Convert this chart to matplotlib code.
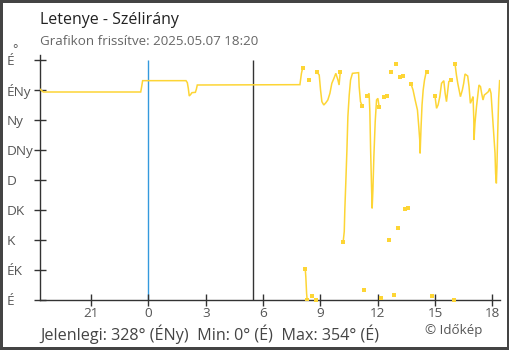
import matplotlib
matplotlib.use('Agg')
import matplotlib.pyplot as plt

plt.rcParams['font.family'] = ['Open Sans', 'DejaVu Sans']

# wind direction, hours relative to midnight (negative = previous evening), degrees
# each run is a stretch of readings without a 0/360 wrap
run_a_h = [-5.66, -5.5, -0.40, -0.35, -0.30, 1.97, 2.04, 2.09, 2.14, 2.22, 2.28, 2.46,
           2.51, 2.56, 7.93, 8.01, 8.07]
run_a_deg = [316, 312, 312, 320, 329, 329, 326, 317.5, 306, 308.5, 311, 311.5,
             316, 322.5, 323, 340, 347.5]

run_b_h = [8.21, 8.24, 8.28, 8.31]
run_b_deg = [46, 34.5, 10, 0]

run_c_h = [8.83, 8.94, 9.01, 9.08, 9.18, 9.29, 9.39, 9.50, 9.60, 9.71, 9.81, 9.92, 9.98, 10.04]
run_c_deg = [341.5, 337.5, 315, 297.5, 292.5, 296, 300, 310, 325, 332.5, 340, 330, 322.5, 341.5]

run_d_h = [10.19, 10.25, 10.28, 10.33, 10.39, 10.44, 10.51, 10.58, 10.68, 11.0, 11.03, 11.10, 11.19]
run_d_deg = [86.5, 102.5, 135, 175, 225, 275, 307.5, 330, 340, 341, 320, 297.5, 291]

run_e_h = [11.45, 11.55, 11.59, 11.63, 11.68, 11.71, 11.75, 11.80, 11.87, 11.94, 12.01, 12.08]
run_e_deg = [306, 310, 282.5, 225, 167.5, 137.5, 165, 215, 267.5, 300, 302.5, 289]

run_f_h = [13.75, 13.85, 13.96, 14.08, 14.15, 14.20, 14.22, 14.27, 14.32, 14.38, 14.45, 14.53, 14.58]
run_f_deg = [323.5, 315, 300, 285, 260, 240, 220, 260, 292.5, 315, 330, 341, 341.5]

run_g_h = [15.0, 15.08, 15.16, 15.25, 15.34, 15.46, 15.53, 15.60, 15.67, 15.72, 15.82]
run_g_deg = [305.5, 287.5, 292.5, 305, 325, 329, 310, 297.5, 315, 327.5, 330]

run_h_h = [16.05, 16.12, 16.19, 16.26, 16.33, 16.43, 16.50, 16.57, 16.71, 16.78, 16.85, 16.92,
           16.99, 17.03, 17.04, 17.09, 17.17, 17.23, 17.30, 17.38, 17.44, 17.51, 17.58, 17.69,
           17.79, 17.86, 17.93, 18.0, 18.07, 18.14, 18.17, 18.21, 18.24, 18.28, 18.33, 18.38]
run_h_deg = [353.5, 337.5, 325, 315, 305, 315, 325, 339, 336, 320, 295, 300,
             305, 270, 240, 265, 290, 305, 322.5, 320, 310, 300, 307.5, 310,
             312.5, 317.5, 310, 280, 250, 220, 190, 175, 200, 250, 302.5, 329]

# single readings between wraps
lone_h = [8.42, 8.57, 8.75, 11.29, 12.18, 12.34, 12.49, 12.60, 12.70, 12.86, 12.96,
          13.07, 13.17, 13.33, 13.43, 13.59, 14.85, 16.0]
lone_deg = [329.5, 5.5, 0, 15, 2.5, 304, 306, 89.5, 341.5, 7, 353.5,
            107.5, 334, 336, 136, 137.5, 5.5, 0]

runs = [(run_a_h, run_a_deg), (run_b_h, run_b_deg), (run_c_h, run_c_deg),
        (run_d_h, run_d_deg), (run_e_h, run_e_deg), (run_f_h, run_f_deg),
        (run_g_h, run_g_deg), (run_h_h, run_h_deg)]

tick_hours = [-3, 0, 3, 6, 9, 12, 15, 18]
tick_labels = ['21', '0', '3', '6', '9', '12', '15', '18']
dir_deg = [0, 45, 90, 135, 180, 225, 270, 315, 360]
dir_labels = ['É', 'ÉK', 'K', 'DK', 'D', 'DNy', 'Ny', 'ÉNy', 'É']

midnight = 0
sunrise = 5.48
x_start, x_end = -5.67, 18.4

yellow = '#fdd535'
grey = '#555555'
axis_col = '#333333'

fig = plt.figure(figsize=(5.1, 3.5), dpi=100)
fig.patch.set_edgecolor('#444444')
fig.patch.set_linewidth(3)
ax = fig.add_axes([40 / 510, 50 / 350, 460 / 510, 245 / 350])

ax.vlines(midnight, 0, 360, color='#3399dd', lw=1, zorder=1)
ax.vlines(sunrise, 0, 360, color=axis_col, lw=1, zorder=1)

for hs, ds in runs:
    ax.plot(hs, ds, color=yellow, lw=1.1, zorder=3, solid_joinstyle='miter')
    # square marks where a run breaks off
    inside = [(h, d) for h, d in ((hs[0], ds[0]), (hs[-1], ds[-1]))
              if x_start + 0.1 < h < x_end - 0.1]
    ax.plot([p[0] for p in inside], [p[1] for p in inside], 's', color=yellow,
            ms=2.6, mew=0, zorder=3)
ax.plot(lone_h, lone_deg, 's', color=yellow, ms=2.6, mew=0, zorder=3, clip_on=False)

ax.set_xlim(x_start, x_end)
ax.set_ylim(0, 367.5)
ax.set_xticks(tick_hours)
ax.set_xticklabels(tick_labels)
ax.set_yticks(dir_deg)
ax.set_yticklabels(dir_labels)
for lbl in ax.get_yticklabels():
    lbl.set_horizontalalignment('left')

for side in ('top', 'right'):
    ax.spines[side].set_visible(False)
for side in ('left', 'bottom'):
    ax.spines[side].set_color(axis_col)
    ax.spines[side].set_linewidth(1)
ax.tick_params(axis='x', direction='inout', length=8, width=1, color=axis_col,
               labelsize=9.7, labelcolor=grey, pad=1)
ax.tick_params(axis='y', direction='inout', length=9, width=1, color=axis_col,
               labelsize=9.7, labelcolor=grey, pad=19.3)

fig.text(15 / 510, 1 - 50 / 350, '°', fontsize=9, color=grey, ha='center', va='center')
fig.text(40 / 510, 1 - 24.5 / 350, 'Letenye - Szélirány', fontsize=11.5, color='#222222',
         va='baseline')
fig.text(40 / 510, 1 - 45 / 350, 'Grafikon frissítve: 2025.05.07 18:20', fontsize=9.6,
         color='#666666', va='baseline')
fig.text(40 / 510, 1 - 339.5 / 350, 'Jelenlegi: 328° (ÉNy)  Min: 0° (É)  Max: 354° (É)',
         fontsize=11.6, color='#444444', va='baseline')
fig.text(425 / 510, 1 - 334 / 350, '© Időkép', fontsize=9.6, color=grey, va='baseline')

fig.savefig('out.png', dpi=100)
